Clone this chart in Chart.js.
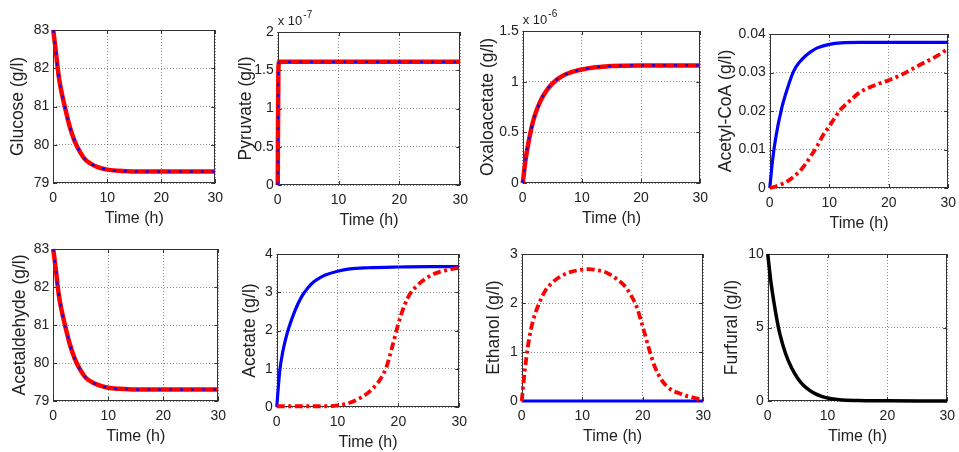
<!DOCTYPE html>
<html><head><meta charset="utf-8">
<script src="https://cdn.jsdelivr.net/npm/chart.js@4.4.0/dist/chart.umd.min.js"></script>
<style>
html,body{margin:0;padding:0;background:#fff;width:959px;height:452px;overflow:hidden;position:relative}
canvas{position:absolute}
</style></head><body>
<script>
// ---------- data ----------
const xTicks = [0, 10, 20, 30];
const xTitle = 'Time (h)';

const tGlu = [0,0.5,1,1.5,2,3,4,5,6,7,8,10,12,15,20,25,30];
const glucose = [83,82.42,81.8,81.4,81.08,80.5,80.08,79.8,79.6,79.5,79.43,79.35,79.32,79.3,79.3,79.3,79.3];

const tPyr = [0,0.1,0.25,5,10,15,20,25,30];
const pyruvate = [0,1.5e-7,1.61e-7,1.61e-7,1.61e-7,1.61e-7,1.61e-7,1.61e-7,1.61e-7];

const tOxa = [0,0.5,1,1.5,2,3,4,5,6,7,8,10,12,15,20,25,30];
const oxaloacetate = [0,0.24e-6,0.41e-6,0.55e-6,0.66e-6,0.81e-6,0.91e-6,0.98e-6,1.03e-6,1.065e-6,1.09e-6,1.12e-6,1.14e-6,1.155e-6,1.16e-6,1.16e-6,1.16e-6];

const tAcCoABlue = [0,0.5,1,2,3,4,5,6,7,8,10,12,15,20,25,30];
const acetylCoABlue = [0,0.0075,0.013,0.0207,0.026,0.0303,0.0327,0.0343,0.0355,0.0364,0.0373,0.0377,0.0378,0.0378,0.0378,0.0378];
const tAcCoARed = [0,1,2,3,4,5,6,7,8,9,10,11,12,13,14,15,16,17,18,20,22,25,28,30];
const acetylCoARed = [0,0.0004,0.001,0.0018,0.0029,0.0043,0.0062,0.0085,0.011,0.0138,0.016,0.0184,0.0205,0.022,0.0234,0.0247,0.0256,0.0263,0.0269,0.028,0.0293,0.0318,0.0342,0.0362];

const tAld = [0,0.5,1,1.5,2,3,4,5,6,7,8,10,12,15,20,25,30];
const acetaldehyde = [83,82.42,81.8,81.4,81.08,80.5,80.08,79.8,79.6,79.5,79.43,79.35,79.32,79.3,79.3,79.3,79.3];

const tAceBlue = [0,0.5,1,1.5,2,3,4,5,6,7,8,10,12,15,20,25,30];
const acetateBlue = [0,0.95,1.45,1.8,2.08,2.52,2.86,3.09,3.26,3.37,3.45,3.55,3.61,3.64,3.66,3.67,3.67];
const tAceRed = [0,5,8,10,12,14,15,16,17,18,19,20,21,22,23,24,26,28,30];
const acetateRed = [0.02,0.02,0.02,0.04,0.11,0.26,0.37,0.52,0.72,1.03,1.58,2.18,2.66,2.98,3.16,3.3,3.49,3.58,3.64];

const tEthRed = [0,0.5,1,1.5,2,3,4,5,6,8,10,11,12,14,16,17,18,19,20,21,22,23,24,25,26,27,28,29,30];
const ethanolRed = [0,0.62,1.1,1.45,1.7,2.03,2.27,2.41,2.51,2.63,2.68,2.69,2.68,2.62,2.46,2.35,2.17,1.92,1.52,1.08,0.7,0.45,0.3,0.21,0.16,0.11,0.08,0.05,0.02];
const tEthBlue = [0,30];
const ethanolBlue = [0,0];

const tFur = [0,0.5,1,1.5,2,3,4,5,6,7,8,9,10,12,15,20,25,30];
const furfural = [10,8.2,6.8,5.6,4.6,3.2,2.25,1.55,1.05,0.72,0.48,0.32,0.2,0.08,0.03,0.01,0,0];

// ---------- styles ----------
const FONT = "'Liberation Sans', Arial, Helvetica, sans-serif";
const RED = '#ff0000', BLUE = '#0000ff';
function pts(t, v) { return t.map((x, i) => ({x, y: v[i]})); }
const redSolid = (t, v) => ({data: pts(t, v), borderColor: RED, borderWidth: 4.5, borderDash: []});
const blueDot = (t, v) => ({data: pts(t, v), borderColor: BLUE, borderWidth: 2.2, borderDash: [3, 8]});
const blueSolid = (t, v) => ({data: pts(t, v), borderColor: BLUE, borderWidth: 3.2, borderDash: []});
const redDashDot = (t, v) => ({data: pts(t, v), borderColor: RED, borderWidth: 3.8, borderDash: [8, 3.5, 3, 3.5]});
const blackSolid = (t, v) => ({data: pts(t, v), borderColor: '#000', borderWidth: 3.5, borderDash: []});

// ---------- box / inward ticks / exponent plugin ----------
const boxPlugin = {
  id: 'box',
  beforeDatasetsDraw(chart, args, opts) {
    const {ctx, chartArea: a, scales} = chart;
    ctx.save();
    ctx.strokeStyle = '#333';
    ctx.lineWidth = 1;
    ctx.setLineDash([]);
    ctx.strokeRect(Math.round(a.left) + 0.5, Math.round(a.top) + 0.5, Math.round(a.right - a.left) - 1, Math.round(a.bottom - a.top) - 1);
    const L = 4;
    ctx.beginPath();
    scales.x.ticks.forEach((t, i) => {
      const px = Math.round(scales.x.getPixelForTick(i)) + 0.5;
      ctx.moveTo(px, a.bottom); ctx.lineTo(px, a.bottom - L);
      ctx.moveTo(px, a.top); ctx.lineTo(px, a.top + L);
    });
    scales.y.ticks.forEach((t, i) => {
      const py = Math.round(scales.y.getPixelForTick(i)) + 0.5;
      ctx.moveTo(a.left, py); ctx.lineTo(a.left + L, py);
      ctx.moveTo(a.right, py); ctx.lineTo(a.right - L, py);
    });
    ctx.stroke();
    if (opts && opts.exp) {
      ctx.fillStyle = '#222';
      ctx.textBaseline = 'alphabetic';
      ctx.textAlign = 'left';
      ctx.font = '13px ' + FONT;
      const base = 'x 10';
      ctx.fillText(base, a.left, a.top - 7);
      const w = ctx.measureText(base).width;
      ctx.font = '10px ' + FONT;
      ctx.fillText(opts.exp, w + a.left + 1, a.top - 14);
    }
    ctx.restore();
  }
};

// ---------- panels ----------
function makePanel(p) {
  const padTop = 25, padRight = 12, xH = 44;
  const cl = p.titleX - 8.75;
  const ct = p.t - padTop;
  const w = Math.round(p.r - cl + padRight);
  const h = Math.round(p.b + xH - ct);
  const cv = document.createElement('canvas');
  cv.width = w; cv.height = h;
  cv.style.left = cl + 'px'; cv.style.top = ct + 'px';
  cv.style.width = w + 'px'; cv.style.height = h + 'px';
  document.body.appendChild(cv);
  const yW = p.l - cl;
  const scale = p.factor || 1;
  new Chart(cv, {
    type: 'line',
    data: {datasets: p.datasets.map(d => Object.assign({
      pointRadius: 0, fill: false, cubicInterpolationMode: 'monotone', borderCapStyle: 'butt', clip: 6
    }, d))},
    options: {
      responsive: false, maintainAspectRatio: false, animation: false, devicePixelRatio: 1,
      layout: {padding: {top: padTop, right: padRight, left: 0, bottom: 0}},
      plugins: {legend: {display: false}, tooltip: {enabled: false}, box: {exp: p.exp}},
      scales: {
        x: {
          type: 'linear', min: xTicks[0], max: xTicks[xTicks.length - 1],
          afterBuildTicks: s => { s.ticks = xTicks.map(v => ({value: v})); },
          afterFit: s => { s.height = xH; },
          grid: {color: 'rgba(0,0,0,0.45)', lineWidth: 1, drawTicks: false},
          border: {display: false, dash: [1, 2]},
          ticks: {padding: 7, color: '#222', font: {family: FONT, size: 14}, maxRotation: 0},
          title: {display: true, text: xTitle, color: '#222', padding: 0, font: {family: FONT, size: 16, lineHeight: 1}}
        },
        y: {
          type: 'linear', min: p.yMin, max: p.yMax,
          ticks: {stepSize: p.yStep, padding: 4, color: '#222', font: {family: FONT, size: 14},
            callback: v => +(v / scale).toFixed(4)},
          afterFit: s => { s.width = yW; },
          grid: {color: 'rgba(0,0,0,0.45)', lineWidth: 1, drawTicks: false},
          border: {display: false, dash: [1, 2]},
          title: {display: true, text: p.yTitle, color: '#222', padding: 0, font: {family: FONT, size: 17.5, lineHeight: 1}}
        }
      }
    },
    plugins: [boxPlugin]
  });
}

// first dataset in each list is drawn on top
const panels = [
  {l: 53, t: 30, r: 218, b: 183, titleX: 17.5, yTitle: 'Glucose (g/l)', yMin: 79, yMax: 83, yStep: 1,
   datasets: [blueDot(tGlu, glucose), redSolid(tGlu, glucose)]},
  {l: 278, t: 32, r: 463, b: 185, titleX: 246, yTitle: 'Pyruvate (g/l)', yMin: 0, yMax: 2e-7, yStep: 0.5e-7, factor: 1e-7, exp: '-7',
   datasets: [blueDot(tPyr, pyruvate), redSolid(tPyr, pyruvate)]},
  {l: 523, t: 31, r: 703, b: 183, titleX: 488, yTitle: 'Oxaloacetate (g/l)', yMin: 0, yMax: 1.5e-6, yStep: 0.5e-6, factor: 1e-6, exp: '-6',
   datasets: [blueDot(tOxa, oxaloacetate), redSolid(tOxa, oxaloacetate)]},
  {l: 770, t: 34, r: 951, b: 188, titleX: 726, yTitle: 'Acetyl-CoA (g/l)', yMin: 0, yMax: 0.04, yStep: 0.01,
   datasets: [redDashDot(tAcCoARed, acetylCoARed), blueSolid(tAcCoABlue, acetylCoABlue)]},
  {l: 53, t: 249, r: 221, b: 401, titleX: 19.5, yTitle: 'Acetaldehyde (g/l)', yMin: 79, yMax: 83, yStep: 1,
   datasets: [blueDot(tAld, acetaldehyde), redSolid(tAld, acetaldehyde)]},
  {l: 277, t: 254, r: 462, b: 407, titleX: 250, yTitle: 'Acetate (g/l)', yMin: 0, yMax: 4, yStep: 1,
   datasets: [redDashDot(tAceRed, acetateRed), blueSolid(tAceBlue, acetateBlue)]},
  {l: 522, t: 254, r: 706, b: 401, titleX: 494, yTitle: 'Ethanol (g/l)', yMin: 0, yMax: 3, yStep: 1,
   datasets: [redDashDot(tEthRed, ethanolRed), blueSolid(tEthBlue, ethanolBlue)]},
  {l: 768, t: 254, r: 950, b: 401, titleX: 732, yTitle: 'Furfural (g/l)', yMin: 0, yMax: 10, yStep: 5,
   datasets: [blackSolid(tFur, furfural)]}
];
panels.forEach(makePanel);
</script>
</body></html>
